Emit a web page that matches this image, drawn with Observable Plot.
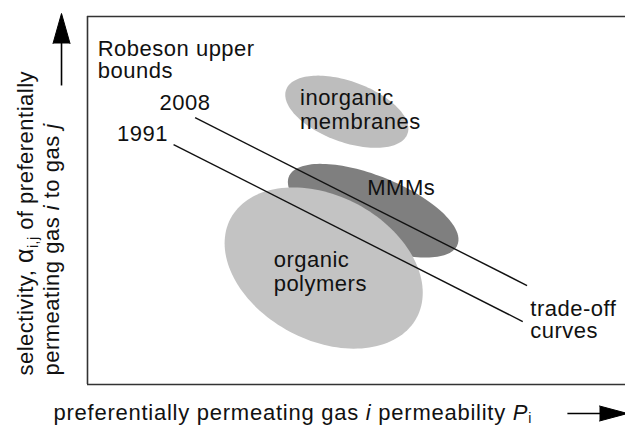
<!DOCTYPE html>
<html><head><meta charset="utf-8">
<script src="https://cdn.jsdelivr.net/npm/d3@7"></script>
<script src="https://cdn.jsdelivr.net/npm/@observablehq/plot@0.6"></script>
<style>
body{margin:0;background:#fff;}
svg{display:block;}
svg text{letter-spacing:0.5px;}
</style></head><body><div id="chart"></div>
<script>
// Schematic units: permeability (x) and selectivity (y), arbitrary
const regionNames = ["inorganic membranes", "MMMs", "organic polymers"];
const regionCx = [48.2, 53.1, 43.9];
const regionCy = [50.7, 32.3, 21.65];
const regionRx = [12.0, 16.9, 19.6];
const regionRy = [5.65, 6.45, 13.4];
const regionAngle = [-20, -22, -28];
const regionFill = ["#bdbdbd", "#7f7f7f", "#c3c3c3"];

const boundYears = ["1991", "2008"];
const boundStartX = [16.0, 20.0];
const boundStartY = [44.6, 49.6];
const boundEndX = [80.9, 81.7];
const boundEndY = [11.7, 18.4];

const labelTexts = ["Robeson upper", "bounds", "2008", "1991", "inorganic", "membranes", "MMMs", "organic", "polymers", "trade-off", "curves"];
const labelX = [1.9, 1.9, 13.4, 5.5, 39.5, 39.5, 52.0, 34.6, 34.6, 82.3, 82.3];
const labelY = [62.46, 58.19, 52.42, 46.66, 53.17, 48.71, 36.62, 23.24, 18.78, 14.13, 9.86];

const yTitleLines = ["selectivity, \u03b1_ij of preferentially", "permeating gas i to gas j"];
const yTitleX = [-11.53, -6.70];
const yTitleY = [1.67, 1.67];
const xTitle = "preferentially permeating gas i permeability P_i";
const xTitleX = -6.32, xTitleY = -5.2;

const font = "'Liberation Sans', Arial, Helvetica, sans-serif";
const fs = 22;

function ellipsePoints(i) {
  const pts = [];
  const th = regionAngle[i] * Math.PI / 180;
  for (let k = 0; k < 144; k++) {
    const t = k / 144 * 2 * Math.PI;
    const ex = regionRx[i] * Math.cos(t), ey = regionRy[i] * Math.sin(t);
    pts.push({x: regionCx[i] + ex * Math.cos(th) - ey * Math.sin(th),
              y: regionCy[i] + ex * Math.sin(th) + ey * Math.cos(th)});
  }
  return pts;
}

const bounds = boundYears.map((yr, i) => ({yr, x1: boundStartX[i], y1: boundStartY[i], x2: boundEndX[i], y2: boundEndY[i]}));
const labels = labelTexts.map((t, i) => ({t, x: labelX[i], y: labelY[i]}));
const yTitles = yTitleLines.map((t, i) => ({t, x: yTitleX[i], y: yTitleY[i]}));

const plot = Plot.plot({
  width: 625, height: 425,
  marginLeft: 87, marginRight: 0, marginTop: 16, marginBottom: 41,
  x: {domain: [0, 100], axis: null},
  y: {domain: [0, 68.4], axis: null},
  style: {background: "white", fontFamily: font, overflow: "visible"},
  marks: [
    ...[0, 1, 2].map(i => Plot.line(ellipsePoints(i), {x: "x", y: "y", curve: "linear-closed", fill: regionFill[i], stroke: "none"})),
    Plot.link(bounds, {x1: "x1", y1: "y1", x2: "x2", y2: "y2", stroke: "#111", strokeWidth: 1.4}),
    Plot.ruleY([0, 68.4], {stroke: "#333", strokeWidth: 1.6}),
    Plot.ruleX([0], {stroke: "#333", strokeWidth: 1.6}),
    Plot.text(labels, {x: "x", y: "y", text: "t", textAnchor: "start", fontSize: fs, fill: "#111"}),
    Plot.text(yTitles, {x: "x", y: "y", text: "t", textAnchor: "start", rotate: -90, fontSize: fs, fill: "#111"}),
    Plot.text([xTitle], {x: xTitleX, y: xTitleY, text: d => d, textAnchor: "start", fontSize: fs, fill: "#111"}),
    // arrow shafts
    Plot.link([{x1: -4.83, y1: 55.58, x2: -4.83, y2: 64.5}], {x1: "x1", y1: "y1", x2: "x2", y2: "y2", stroke: "#000", strokeWidth: 1.6}),
    Plot.link([{x1: 89.2, y1: -5.39, x2: 96.2, y2: -5.39}], {x1: "x1", y1: "y1", x2: "x2", y2: "y2", stroke: "#000", strokeWidth: 1.6}),
    // arrow heads
    Plot.vector([{x: -4.83, y: 63.38, r: 0}], {x: "x", y: "y", rotate: "r", length: 30, shape: "spike", r: 8.5, anchor: "start", fill: "#000", stroke: "#000", strokeWidth: 1}),
    Plot.vector([{x: 95.17, y: -5.39, r: 90}], {x: "x", y: "y", rotate: "r", length: 28, shape: "spike", r: 7.5, anchor: "start", fill: "#000", stroke: "#000", strokeWidth: 1})
  ]
});
document.getElementById("chart").appendChild(plot);

// rich text: italics and subscripts
d3.select(plot).selectAll("text").each(function() {
  const s = this.textContent;
  if (s === yTitleLines[0]) {
    this.innerHTML = 'selectivity, <tspan font-size="25">\u03b1</tspan><tspan font-size="14" dy="6">i,j</tspan><tspan dy="-6"> of preferentially</tspan>';
  } else if (s === yTitleLines[1]) {
    this.innerHTML = 'permeating gas <tspan font-style="italic">i</tspan> to gas <tspan font-style="italic">j</tspan>';
  } else if (s === xTitle) {
    this.setAttribute("letter-spacing", "0.75px");
    this.style.letterSpacing = "0.75px";
    this.innerHTML = 'preferentially permeating gas <tspan font-style="italic">i</tspan> permeability <tspan font-style="italic">P</tspan><tspan font-size="14" dy="3">i</tspan>';
  }
});
</script></body></html>
